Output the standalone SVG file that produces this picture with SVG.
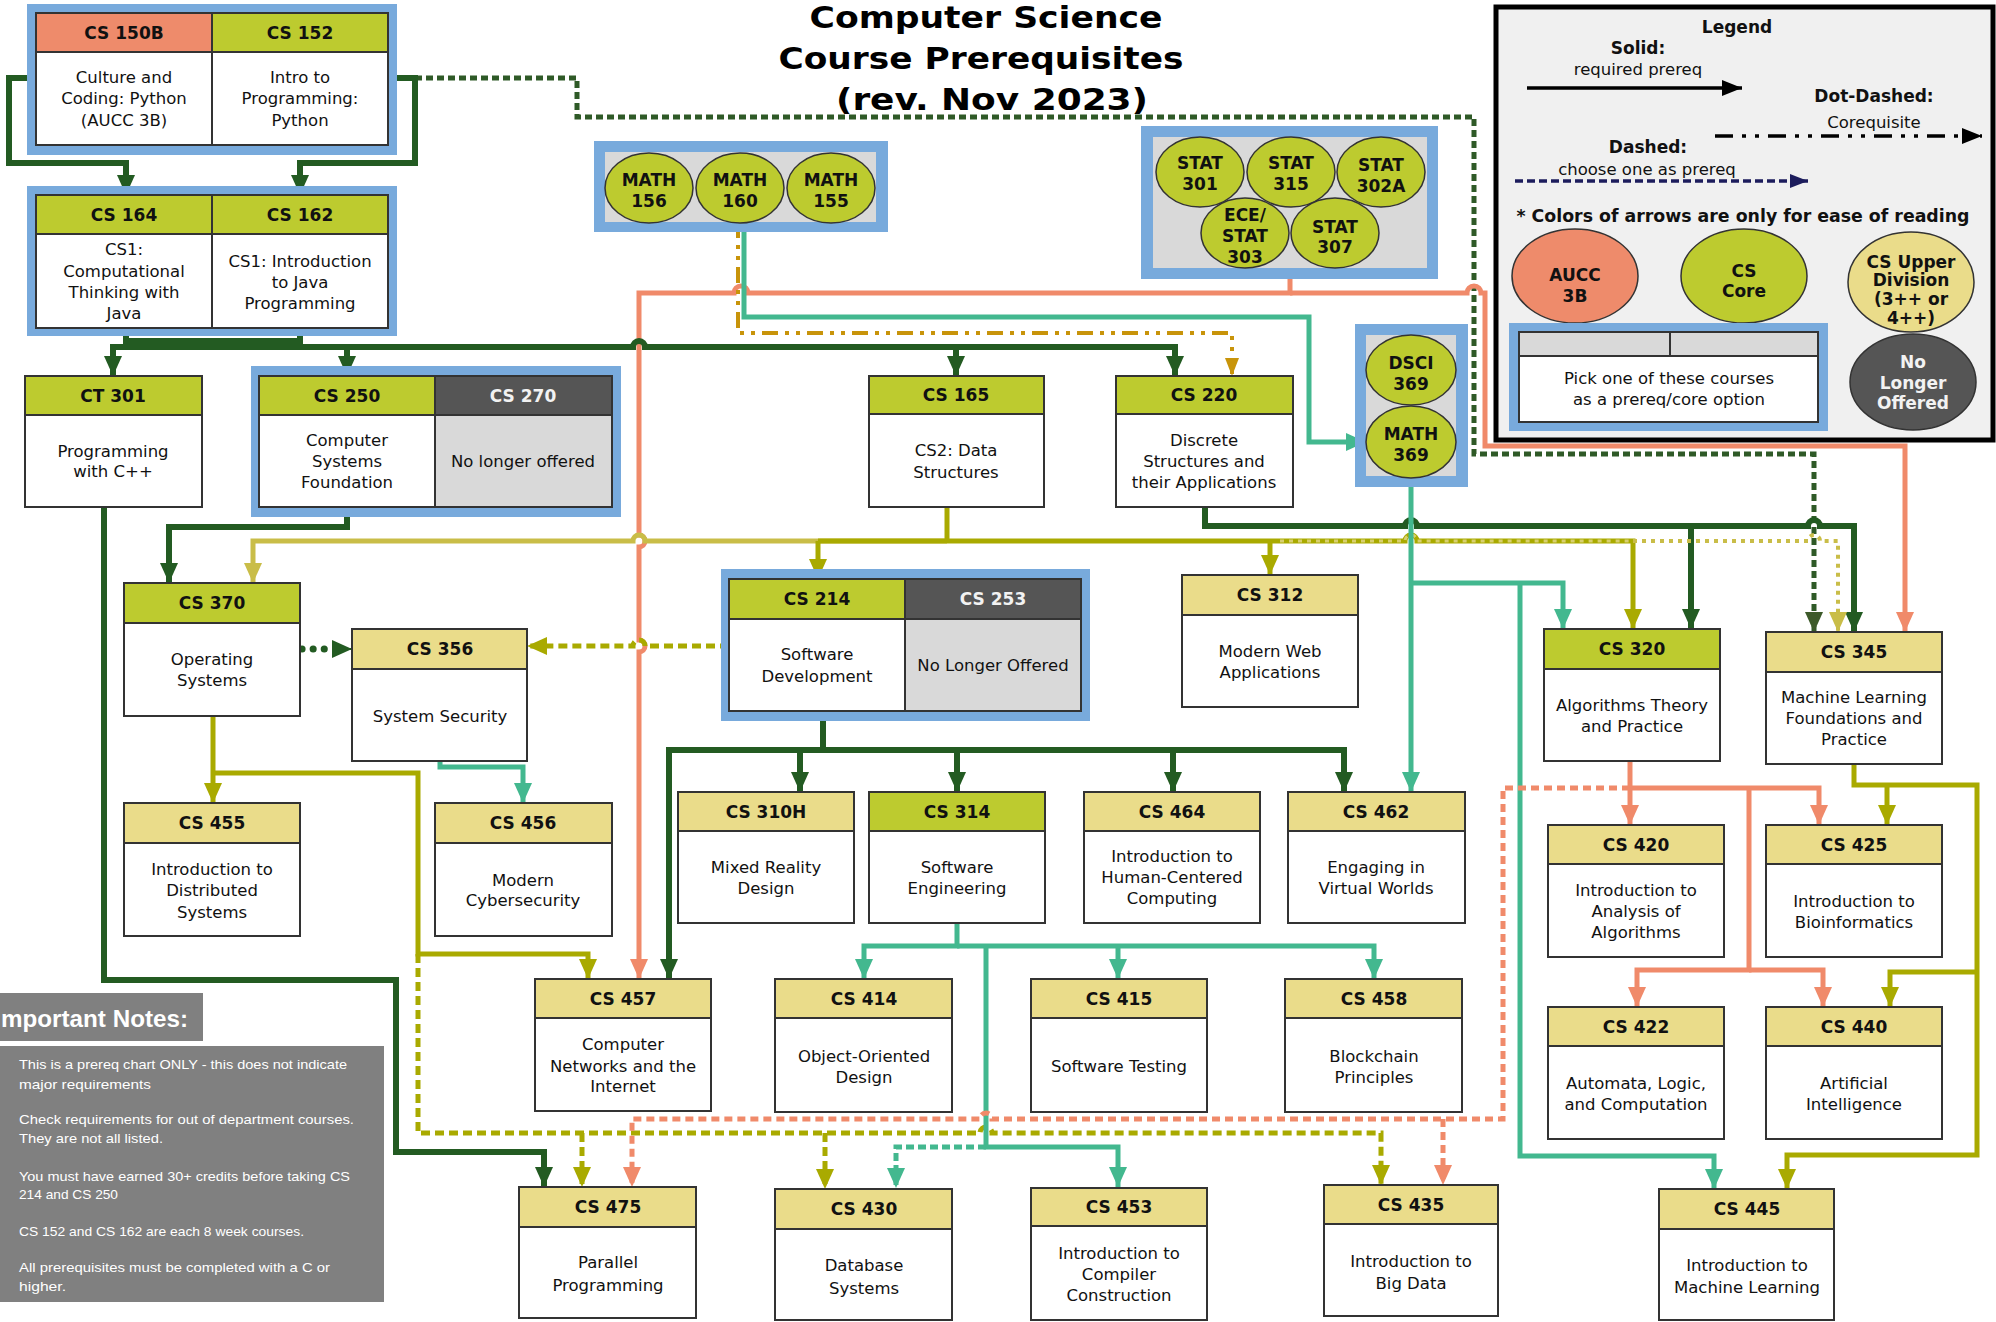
<svg xmlns="http://www.w3.org/2000/svg" width="1996" height="1322" viewBox="0 0 1996 1322">
<style>
.box{fill:#fff;stroke:#333;stroke-width:2}
.hg{fill:#BDCB2F;stroke:#333;stroke-width:2}
.hy{fill:#EADC8A;stroke:#333;stroke-width:2}
.hs{fill:#EE8B6B;stroke:#333;stroke-width:2}
.hd{fill:#555;stroke:#333;stroke-width:2}
.gr{fill:#D9D9D9;stroke:#333;stroke-width:2}
.blue{fill:#78AADC}
.cir{fill:#BDCB2F;stroke:#333;stroke-width:1.5}
.h{font-family:"DejaVu Sans",Verdana,sans-serif;font-weight:bold;font-size:17px;text-anchor:middle;fill:#111}
.hw{font-family:"DejaVu Sans",Verdana,sans-serif;font-weight:bold;font-size:17px;text-anchor:middle;fill:#f2f2f2}
.t{font-family:"DejaVu Sans",Verdana,sans-serif;font-size:16.5px;text-anchor:middle;fill:#111}
.c{fill:none;stroke-linejoin:miter}
.dg{stroke:#235B22;stroke-width:6}
.te{stroke:#43B88F;stroke-width:5}
.sa{stroke:#F08A6A;stroke-width:5}
.ol{stroke:#A9AA00;stroke-width:5}
.kh{stroke:#C9BD48;stroke-width:5}
.go{stroke:#C8940A;stroke-width:4}
.note{font-family:"Liberation Sans",Arial,sans-serif;font-size:13.5px;fill:#fff}
</style>
<defs>
<marker id="m-dg" markerUnits="userSpaceOnUse" markerWidth="20" markerHeight="18" viewBox="0 0 20 18" refX="20" refY="9" orient="auto"><path d="M0,0 L20,9 L0,18 z" fill="#235B22"/></marker>
<marker id="m-dd" markerUnits="userSpaceOnUse" markerWidth="20" markerHeight="18" viewBox="0 0 20 18" refX="20" refY="9" orient="auto"><path d="M0,0 L20,9 L0,18 z" fill="#3D5A2A"/></marker>
<marker id="m-te" markerUnits="userSpaceOnUse" markerWidth="20" markerHeight="18" viewBox="0 0 20 18" refX="20" refY="9" orient="auto"><path d="M0,0 L20,9 L0,18 z" fill="#43B88F"/></marker>
<marker id="m-sa" markerUnits="userSpaceOnUse" markerWidth="20" markerHeight="18" viewBox="0 0 20 18" refX="20" refY="9" orient="auto"><path d="M0,0 L20,9 L0,18 z" fill="#F08A6A"/></marker>
<marker id="m-ol" markerUnits="userSpaceOnUse" markerWidth="20" markerHeight="18" viewBox="0 0 20 18" refX="20" refY="9" orient="auto"><path d="M0,0 L20,9 L0,18 z" fill="#A9AA00"/></marker>
<marker id="m-kh" markerUnits="userSpaceOnUse" markerWidth="20" markerHeight="18" viewBox="0 0 20 18" refX="20" refY="9" orient="auto"><path d="M0,0 L20,9 L0,18 z" fill="#C9BD48"/></marker>
<marker id="m-go" markerUnits="userSpaceOnUse" markerWidth="18" markerHeight="14" viewBox="0 0 18 14" refX="18" refY="7" orient="auto"><path d="M0,0 L18,7 L0,14 z" fill="#C8940A"/></marker>
<marker id="m-bk" markerUnits="userSpaceOnUse" markerWidth="20" markerHeight="16" viewBox="0 0 20 16" refX="20" refY="8" orient="auto"><path d="M0,0 L20,8 L0,16 z" fill="#000"/></marker>
<marker id="m-nv" markerUnits="userSpaceOnUse" markerWidth="18" markerHeight="14" viewBox="0 0 18 14" refX="18" refY="7" orient="auto"><path d="M0,0 L18,7 L0,14 z" fill="#1C1C5C"/></marker>
</defs>
<rect width="1996" height="1322" fill="#fff"/>

<g id="title" font-family="'DejaVu Sans',Verdana,sans-serif" font-weight="bold" font-size="31" text-anchor="middle" fill="#000">
<text x="986" y="28" textLength="353" lengthAdjust="spacingAndGlyphs">Computer Science</text>
<text x="981" y="69" textLength="405" lengthAdjust="spacingAndGlyphs">Course Prerequisites</text>
<text x="992" y="110" textLength="312" lengthAdjust="spacingAndGlyphs">(rev. Nov 2023)</text>
</g>

<g id="connectors">
<path class="c" d="M415 78 H577 V117 H1474 V454 H1814 V632" stroke="#2F5A27" stroke-width="5" stroke-dasharray="7,4" marker-end="url(#m-dd)"/>
<path class="c sa" d="M1290 279 V293 H748 a7 7 0 0 0 -14 0 H639 V535 a6 6 0 0 1 0 12 V640 a6 6 0 0 1 0 12 V979" marker-end="url(#m-sa)"/>
<path class="c sa" d="M1290 293 H1467 a7 7 0 0 1 14 0 H1485 V446 H1905 V632" marker-end="url(#m-sa)"/>
<path class="c te" d="M744 222 V317 H1309 V442 H1366" marker-end="url(#m-te)"/>
<path class="c go" d="M738 222 V333 H1232 V376" stroke-dasharray="16,7,4,7,4,7" marker-end="url(#m-go)"/>
<path class="c dg" d="M36 78 H9 V163 H126 V195" marker-end="url(#m-dg)"/>
<path class="c dg" d="M388 78 H415 V163 H300 V195" marker-end="url(#m-dg)"/>
<path class="c dg" d="M126 328 V341 H300 V328 M213 341 V347"/>
<path class="c dg" d="M213 347 H113 V376" marker-end="url(#m-dg)"/>
<path class="c dg" d="M213 347 H633 a6 6 0 0 1 12 0 H1175 V376" marker-end="url(#m-dg)"/>
<path class="c dg" d="M347 347 V376" marker-end="url(#m-dg)"/>
<path class="c dg" d="M956 347 V376" marker-end="url(#m-dg)"/>
<path class="c dg" d="M104 507 V980 H396 V1152 H544 V1187" marker-end="url(#m-dg)"/>
<path class="c dg" d="M347 507 V527 H169 V583" marker-end="url(#m-dg)"/>
<path class="c dg" d="M1205 507 V526 H1405 a6 6 0 0 1 12 0 H1808 a6 6 0 0 1 12 0 H1854 V632" marker-end="url(#m-dg)"/>
<path class="c dg" d="M1691 526 V629" marker-end="url(#m-dg)"/>
<path class="c dg" d="M823 711 V750"/>
<path class="c dg" d="M823 750 H669 V979" marker-end="url(#m-dg)"/>
<path class="c dg" d="M823 750 H1344 V792" marker-end="url(#m-dg)"/>
<path class="c dg" d="M800 750 V792" marker-end="url(#m-dg)"/>
<path class="c dg" d="M957 750 V792" marker-end="url(#m-dg)"/>
<path class="c dg" d="M1173 750 V792" marker-end="url(#m-dg)"/>
<path class="c" d="M302 649 H333" stroke="#235B22" stroke-width="7" stroke-linecap="round" stroke-dasharray="0.1,11"/>
<path class="c" d="M333 649 H352" stroke="#235B22" stroke-width="2" marker-end="url(#m-dg)"/>
<path class="c kh" d="M947 541 H645 a6 6 0 0 0 -12 0 H253 V583" marker-end="url(#m-kh)"/>
<path class="c ol" d="M947 507 V541"/>
<path class="c ol" d="M818 541 H1405 a6 6 0 0 1 12 0 H1633 V629" marker-end="url(#m-ol)"/>
<path class="c ol" d="M818 541 V579" marker-end="url(#m-ol)"/>
<path class="c ol" d="M1270 541 V575" marker-end="url(#m-ol)"/>
<path class="c" d="M1280 541 H1405 a6 6 0 0 1 12 0 H1633" stroke="#D8CF70" stroke-width="3" stroke-dasharray="4,5"/>
<path class="c" d="M1633 541 H1808 a6 6 0 0 1 12 0 H1838 V632" stroke="#C9BD48" stroke-width="4" stroke-dasharray="4,5" marker-end="url(#m-kh)"/>
<path class="c ol" d="M729 646 H645 a6 6 0 0 0 -12 0 H527" stroke-dasharray="9,5" marker-end="url(#m-ol)"/>
<path class="c te" d="M1411 478 V792" marker-end="url(#m-te)"/>
<path class="c te" d="M1411 583 H1563 V629" marker-end="url(#m-te)"/>
<path class="c te" d="M1520 583 V1156 H1714 V1189" marker-end="url(#m-te)"/>
<path class="c te" d="M440 761 V767 H523 V803" marker-end="url(#m-te)"/>
<path class="c ol" d="M213 716 V803" marker-end="url(#m-ol)"/>
<path class="c ol" d="M213 773 H418 V954 H588 V979" marker-end="url(#m-ol)"/>
<path class="c ol" d="M418 954 V1133 H980 a6 6 0 0 1 12 0 H1381 V1185" stroke-dasharray="9,5" marker-end="url(#m-ol)"/>
<path class="c ol" d="M582 1133 V1187" stroke-dasharray="9,5" marker-end="url(#m-ol)"/>
<path class="c ol" d="M825 1133 V1189" stroke-dasharray="9,5" marker-end="url(#m-ol)"/>
<path class="c te" d="M957 923 V946 H864 V979" marker-end="url(#m-te)"/>
<path class="c te" d="M957 946 H1374 V979" marker-end="url(#m-te)"/>
<path class="c te" d="M1118 946 V979" marker-end="url(#m-te)"/>
<path class="c te" d="M986 946 V1147 H1118 V1187" marker-end="url(#m-te)"/>
<path class="c te" d="M986 1147 H896 V1188" stroke-dasharray="8,4" marker-end="url(#m-te)"/>
<path class="c sa" d="M1630 761 V825" marker-end="url(#m-sa)"/>
<path class="c sa" d="M1630 788 H1819 V825" marker-end="url(#m-sa)"/>
<path class="c sa" d="M1749 788 V970 H1637 V1007" marker-end="url(#m-sa)"/>
<path class="c sa" d="M1749 970 H1823 V1007" marker-end="url(#m-sa)"/>
<path class="c sa" d="M1630 788 H1503 V1119 H992 a6 6 0 0 0 -12 0 H632 V1187" stroke-dasharray="8,5" marker-end="url(#m-sa)"/>
<path class="c sa" d="M1443 1119 V1185" stroke-dasharray="8,5" marker-end="url(#m-sa)"/>
<path class="c ol" d="M1854 764 V785 H1977 V1155 H1787 V1189" marker-end="url(#m-ol)"/>
<path class="c ol" d="M1887 785 V825" marker-end="url(#m-ol)"/>
<path class="c ol" d="M1977 972 H1890 V1007" marker-end="url(#m-ol)"/>
</g>

<g id="cs150b-cs152">
<rect class="blue" x="27" y="4" width="370" height="151"/>
<rect class="box" x="36" y="13" width="352" height="132"/>
<rect class="hs" x="36" y="13" width="176" height="39"/>
<rect class="hg" x="212" y="13" width="176" height="39"/>
<line x1="212" y1="52" x2="212" y2="145" stroke="#333" stroke-width="2"/>
<text class="h" x="124" y="39">CS 150B</text>
<text class="h" x="300" y="39">CS 152</text>
<text class="t" x="124" y="83">Culture and</text>
<text class="t" x="124" y="104">Coding: Python</text>
<text class="t" x="124" y="126">(AUCC 3B)</text>
<text class="t" x="300" y="83">Intro to</text>
<text class="t" x="300" y="104">Programming:</text>
<text class="t" x="300" y="126">Python</text>
</g>
<g id="cs164-cs162">
<rect class="blue" x="27" y="186" width="370" height="150"/>
<rect class="box" x="36" y="195" width="352" height="133"/>
<rect class="hg" x="36" y="195" width="176" height="39"/>
<rect class="hg" x="212" y="195" width="176" height="39"/>
<line x1="212" y1="234" x2="212" y2="328" stroke="#333" stroke-width="2"/>
<text class="h" x="124" y="221">CS 164</text>
<text class="h" x="300" y="221">CS 162</text>
<text class="t" x="124" y="255">CS1:</text>
<text class="t" x="124" y="277">Computational</text>
<text class="t" x="124" y="298">Thinking with</text>
<text class="t" x="124" y="319">Java</text>
<text class="t" x="300" y="267">CS1: Introduction</text>
<text class="t" x="300" y="288">to Java</text>
<text class="t" x="300" y="309">Programming</text>
</g>
<g id="math">
<rect class="blue" x="594" y="141" width="294" height="91"/>
<rect x="605" y="152" width="271" height="70" fill="#D9D9D9"/>
<ellipse class="cir" cx="649" cy="188" rx="44" ry="35"/>
<ellipse class="cir" cx="740" cy="188" rx="44" ry="35"/>
<ellipse class="cir" cx="831" cy="188" rx="44" ry="35"/>
<text class="h" x="649" y="186">MATH</text><text class="h" x="649" y="207">156</text>
<text class="h" x="740" y="186">MATH</text><text class="h" x="740" y="207">160</text>
<text class="h" x="831" y="186">MATH</text><text class="h" x="831" y="207">155</text>
</g>
<g id="stat">
<rect class="blue" x="1141" y="126" width="297" height="153"/>
<rect x="1153" y="137" width="274" height="131" fill="#D9D9D9"/>
<ellipse class="cir" cx="1200" cy="172" rx="44" ry="35"/>
<ellipse class="cir" cx="1291" cy="172" rx="44" ry="35"/>
<ellipse class="cir" cx="1381" cy="172" rx="44" ry="35"/>
<ellipse class="cir" cx="1245" cy="233" rx="44" ry="35"/>
<ellipse class="cir" cx="1335" cy="233" rx="44" ry="35"/>
<text class="h" x="1200" y="169">STAT</text><text class="h" x="1200" y="190">301</text>
<text class="h" x="1291" y="169">STAT</text><text class="h" x="1291" y="190">315</text>
<text class="h" x="1381" y="171">STAT</text><text class="h" x="1381" y="192">302A</text>
<text class="h" x="1245" y="221">ECE/</text><text class="h" x="1245" y="242">STAT</text><text class="h" x="1245" y="263">303</text>
<text class="h" x="1335" y="233">STAT</text><text class="h" x="1335" y="253">307</text>
</g>
<g id="dsci-math369">
<rect class="blue" x="1355" y="324" width="113" height="163"/>
<rect x="1366" y="335" width="90" height="141" fill="#D9D9D9"/>
<ellipse class="cir" cx="1411" cy="370" rx="45" ry="35"/>
<ellipse class="cir" cx="1411" cy="442" rx="45" ry="36"/>
<text class="h" x="1411" y="369">DSCI</text><text class="h" x="1411" y="390">369</text>
<text class="h" x="1411" y="440">MATH</text><text class="h" x="1411" y="461">369</text>
</g>

<g id="legend">
<rect x="1496" y="7" width="497" height="433" fill="#F0F0F0" stroke="#000" stroke-width="5"/>
<text class="h" x="1737" y="33" font-size="20">Legend</text>
<text class="h" x="1638" y="54">Solid:</text>
<text class="t" x="1638" y="75">required prereq</text>
<path d="M1527 88 H1742" stroke="#000" stroke-width="3.5" marker-end="url(#m-bk)"/>
<text class="h" x="1874" y="102">Dot-Dashed:</text>
<text class="t" x="1874" y="128">Corequisite</text>
<path d="M1715 136 H1982" stroke="#000" stroke-width="3.5" stroke-dasharray="18,9,4,9,4,9" marker-end="url(#m-bk)"/>
<text class="h" x="1648" y="153">Dashed:</text>
<text class="t" x="1647" y="175">choose one as prereq</text>
<path d="M1515 181 H1808" stroke="#1C1C5C" stroke-width="3.5" stroke-dasharray="8,4" marker-end="url(#m-nv)"/>
<text class="h" x="1743" y="222" textLength="453" lengthAdjust="spacingAndGlyphs">* Colors of arrows are only for ease of reading</text>
<ellipse cx="1575" cy="276" rx="63" ry="47" fill="#EE8B6B" stroke="#333" stroke-width="1.5"/>
<text class="h" x="1575" y="281">AUCC</text><text class="h" x="1575" y="302">3B</text>
<ellipse cx="1744" cy="276" rx="63" ry="47" fill="#BDCB2F" stroke="#333" stroke-width="1.5"/>
<text class="h" x="1744" y="277">CS</text><text class="h" x="1744" y="297">Core</text>
<ellipse cx="1911" cy="282" rx="63" ry="50" fill="#EADC8A" stroke="#333" stroke-width="1.5"/>
<text class="h" x="1911" y="268" font-size="15.5">CS Upper</text>
<text class="h" x="1911" y="286" font-size="15.5">Division</text>
<text class="h" x="1911" y="305" font-size="15.5">(3++ or</text>
<text class="h" x="1911" y="324" font-size="15.5">4++)</text>
<ellipse cx="1913" cy="382" rx="63" ry="48" fill="#555" stroke="#333" stroke-width="1.5"/>
<text class="hw" x="1913" y="368" font-size="16">No</text>
<text class="hw" x="1913" y="389" font-size="16">Longer</text>
<text class="hw" x="1913" y="409" font-size="16">Offered</text>
<rect class="blue" x="1509" y="323" width="319" height="108"/>
<rect class="box" x="1519" y="332" width="299" height="90"/>
<rect class="gr" x="1519" y="332" width="299" height="24"/>
<line x1="1670" y1="332" x2="1670" y2="356" stroke="#333" stroke-width="2"/>
<text class="t" x="1669" y="384">Pick one of these courses</text>
<text class="t" x="1669" y="405">as a prereq/core option</text>
</g>

<g id="ct301"><rect class="box" x="25" y="376" width="177" height="131"/><rect class="hg" x="25" y="376" width="177" height="39"/><text class="h" x="113" y="402">CT 301</text><text class="t" x="113" y="457">Programming</text><text class="t" x="113" y="477">with C++</text></g>
<g id="cs250-cs270">
<rect class="blue" x="251" y="366" width="370" height="151"/>
<rect class="box" x="259" y="376" width="176" height="131"/>
<rect class="gr" x="435" y="376" width="177" height="131"/>
<rect class="hg" x="259" y="376" width="176" height="39"/>
<rect class="hd" x="435" y="376" width="177" height="39"/>
<text class="h" x="347" y="402">CS 250</text>
<text class="hw" x="523" y="402">CS 270</text>
<text class="t" x="347" y="446">Computer</text><text class="t" x="347" y="467">Systems</text><text class="t" x="347" y="488">Foundation</text>
<text class="t" x="523" y="467">No longer offered</text>
</g>
<g id="cs165"><rect class="box" x="869" y="376" width="175" height="131"/><rect class="hg" x="869" y="376" width="175" height="38"/><text class="h" x="956" y="401">CS 165</text><text class="t" x="956" y="456">CS2: Data</text><text class="t" x="956" y="478">Structures</text></g>
<g id="cs220"><rect class="box" x="1116" y="376" width="177" height="131"/><rect class="hg" x="1116" y="376" width="177" height="38"/><text class="h" x="1204" y="401">CS 220</text><text class="t" x="1204" y="446">Discrete</text><text class="t" x="1204" y="467">Structures and</text><text class="t" x="1204" y="488">their Applications</text></g>
<g id="cs370"><rect class="box" x="124" y="583" width="176" height="133"/><rect class="hg" x="124" y="583" width="176" height="40"/><text class="h" x="212" y="609">CS 370</text><text class="t" x="212" y="665">Operating</text><text class="t" x="212" y="686">Systems</text></g>
<g id="cs356"><rect class="box" x="352" y="629" width="175" height="132"/><rect class="hy" x="352" y="629" width="175" height="40"/><text class="h" x="440" y="655">CS 356</text><text class="t" x="440" y="722">System Security</text></g>
<g id="cs214-cs253">
<rect class="blue" x="721" y="569" width="369" height="152"/>
<rect class="box" x="729" y="579" width="176" height="132"/>
<rect class="gr" x="905" y="579" width="176" height="132"/>
<rect class="hg" x="729" y="579" width="176" height="40"/>
<rect class="hd" x="905" y="579" width="176" height="40"/>
<text class="h" x="817" y="605">CS 214</text>
<text class="hw" x="993" y="605">CS 253</text>
<text class="t" x="817" y="660">Software</text><text class="t" x="817" y="682">Development</text>
<text class="t" x="993" y="671">No Longer Offered</text>
</g>
<g id="cs312"><rect class="box" x="1182" y="575" width="176" height="132"/><rect class="hy" x="1182" y="575" width="176" height="40"/><text class="h" x="1270" y="601">CS 312</text><text class="t" x="1270" y="657">Modern Web</text><text class="t" x="1270" y="678">Applications</text></g>
<g id="cs320"><rect class="box" x="1544" y="629" width="176" height="132"/><rect class="hg" x="1544" y="629" width="176" height="40"/><text class="h" x="1632" y="655">CS 320</text><text class="t" x="1632" y="711">Algorithms Theory</text><text class="t" x="1632" y="732">and Practice</text></g>
<g id="cs345"><rect class="box" x="1766" y="632" width="176" height="132"/><rect class="hy" x="1766" y="632" width="176" height="40"/><text class="h" x="1854" y="658">CS 345</text><text class="t" x="1854" y="703">Machine Learning</text><text class="t" x="1854" y="724">Foundations and</text><text class="t" x="1854" y="745">Practice</text></g>
<g id="cs455"><rect class="box" x="124" y="803" width="176" height="133"/><rect class="hy" x="124" y="803" width="176" height="40"/><text class="h" x="212" y="829">CS 455</text><text class="t" x="212" y="875">Introduction to</text><text class="t" x="212" y="896">Distributed</text><text class="t" x="212" y="918">Systems</text></g>
<g id="cs456"><rect class="box" x="435" y="803" width="177" height="133"/><rect class="hy" x="435" y="803" width="177" height="40"/><text class="h" x="523" y="829">CS 456</text><text class="t" x="523" y="886">Modern</text><text class="t" x="523" y="906">Cybersecurity</text></g>
<g id="cs310h"><rect class="box" x="678" y="792" width="176" height="131"/><rect class="hy" x="678" y="792" width="176" height="39"/><text class="h" x="766" y="818">CS 310H</text><text class="t" x="766" y="873">Mixed Reality</text><text class="t" x="766" y="894">Design</text></g>
<g id="cs314"><rect class="box" x="869" y="792" width="176" height="131"/><rect class="hg" x="869" y="792" width="176" height="39"/><text class="h" x="957" y="818">CS 314</text><text class="t" x="957" y="873">Software</text><text class="t" x="957" y="894">Engineering</text></g>
<g id="cs464"><rect class="box" x="1084" y="792" width="176" height="131"/><rect class="hy" x="1084" y="792" width="176" height="39"/><text class="h" x="1172" y="818">CS 464</text><text class="t" x="1172" y="862">Introduction to</text><text class="t" x="1172" y="883">Human-Centered</text><text class="t" x="1172" y="904">Computing</text></g>
<g id="cs462"><rect class="box" x="1288" y="792" width="177" height="131"/><rect class="hy" x="1288" y="792" width="177" height="39"/><text class="h" x="1376" y="818">CS 462</text><text class="t" x="1376" y="873">Engaging in</text><text class="t" x="1376" y="894">Virtual Worlds</text></g>
<g id="cs420"><rect class="box" x="1548" y="825" width="176" height="132"/><rect class="hy" x="1548" y="825" width="176" height="39"/><text class="h" x="1636" y="851">CS 420</text><text class="t" x="1636" y="896">Introduction to</text><text class="t" x="1636" y="917">Analysis of</text><text class="t" x="1636" y="938">Algorithms</text></g>
<g id="cs425"><rect class="box" x="1766" y="825" width="176" height="132"/><rect class="hy" x="1766" y="825" width="176" height="39"/><text class="h" x="1854" y="851">CS 425</text><text class="t" x="1854" y="907">Introduction to</text><text class="t" x="1854" y="928">Bioinformatics</text></g>
<g id="cs457"><rect class="box" x="535" y="979" width="176" height="132"/><rect class="hy" x="535" y="979" width="176" height="39"/><text class="h" x="623" y="1005">CS 457</text><text class="t" x="623" y="1050">Computer</text><text class="t" x="623" y="1072">Networks and the</text><text class="t" x="623" y="1092">Internet</text></g>
<g id="cs414"><rect class="box" x="775" y="979" width="177" height="133"/><rect class="hy" x="775" y="979" width="177" height="39"/><text class="h" x="864" y="1005">CS 414</text><text class="t" x="864" y="1062">Object-Oriented</text><text class="t" x="864" y="1083">Design</text></g>
<g id="cs415"><rect class="box" x="1031" y="979" width="176" height="133"/><rect class="hy" x="1031" y="979" width="176" height="39"/><text class="h" x="1119" y="1005">CS 415</text><text class="t" x="1119" y="1072">Software Testing</text></g>
<g id="cs458"><rect class="box" x="1285" y="979" width="177" height="133"/><rect class="hy" x="1285" y="979" width="177" height="39"/><text class="h" x="1374" y="1005">CS 458</text><text class="t" x="1374" y="1062">Blockchain</text><text class="t" x="1374" y="1083">Principles</text></g>
<g id="cs422"><rect class="box" x="1548" y="1007" width="176" height="132"/><rect class="hy" x="1548" y="1007" width="176" height="39"/><text class="h" x="1636" y="1033">CS 422</text><text class="t" x="1636" y="1089">Automata, Logic,</text><text class="t" x="1636" y="1110">and Computation</text></g>
<g id="cs440"><rect class="box" x="1766" y="1007" width="176" height="132"/><rect class="hy" x="1766" y="1007" width="176" height="39"/><text class="h" x="1854" y="1033">CS 440</text><text class="t" x="1854" y="1089">Artificial</text><text class="t" x="1854" y="1110">Intelligence</text></g>
<g id="cs475"><rect class="box" x="519" y="1187" width="177" height="131"/><rect class="hy" x="519" y="1187" width="177" height="40"/><text class="h" x="608" y="1213">CS 475</text><text class="t" x="608" y="1268">Parallel</text><text class="t" x="608" y="1291">Programming</text></g>
<g id="cs430"><rect class="box" x="775" y="1189" width="177" height="131"/><rect class="hy" x="775" y="1189" width="177" height="40"/><text class="h" x="864" y="1215">CS 430</text><text class="t" x="864" y="1271">Database</text><text class="t" x="864" y="1294">Systems</text></g>
<g id="cs453"><rect class="box" x="1031" y="1188" width="176" height="132"/><rect class="hy" x="1031" y="1188" width="176" height="38"/><text class="h" x="1119" y="1213">CS 453</text><text class="t" x="1119" y="1259">Introduction to</text><text class="t" x="1119" y="1280">Compiler</text><text class="t" x="1119" y="1301">Construction</text></g>
<g id="cs435"><rect class="box" x="1324" y="1185" width="174" height="131"/><rect class="hy" x="1324" y="1185" width="174" height="39"/><text class="h" x="1411" y="1211">CS 435</text><text class="t" x="1411" y="1267">Introduction to</text><text class="t" x="1411" y="1289">Big Data</text></g>
<g id="cs445"><rect class="box" x="1659" y="1189" width="175" height="131"/><rect class="hy" x="1659" y="1189" width="175" height="40"/><text class="h" x="1747" y="1215">CS 445</text><text class="t" x="1747" y="1271">Introduction to</text><text class="t" x="1747" y="1293">Machine Learning</text></g>

<g id="notes">
<rect x="0" y="993" width="203" height="48" fill="#808080"/>
<text x="1" y="1027" font-family="'Liberation Sans',Arial,sans-serif" font-weight="bold" font-size="24.5" fill="#fff" textLength="187" lengthAdjust="spacingAndGlyphs">mportant Notes:</text>
<rect x="0" y="1046" width="384" height="256" fill="#808080"/>
<text class="note" x="19" y="1069" textLength="328" lengthAdjust="spacingAndGlyphs">This is a prereq chart ONLY - this does not indicate</text>
<text class="note" x="19" y="1089" textLength="132" lengthAdjust="spacingAndGlyphs">major requirements</text>
<text class="note" x="19" y="1124" textLength="335" lengthAdjust="spacingAndGlyphs">Check requirements for out of department courses.</text>
<text class="note" x="19" y="1143" textLength="144" lengthAdjust="spacingAndGlyphs">They are not all listed.</text>
<text class="note" x="19" y="1181" textLength="331" lengthAdjust="spacingAndGlyphs">You must have earned 30+ credits before taking CS</text>
<text class="note" x="19" y="1199" textLength="99" lengthAdjust="spacingAndGlyphs">214 and CS 250</text>
<text class="note" x="19" y="1236" textLength="285" lengthAdjust="spacingAndGlyphs">CS 152 and CS 162 are each 8 week courses.</text>
<text class="note" x="19" y="1272" textLength="311" lengthAdjust="spacingAndGlyphs">All prerequisites must be completed with a C or</text>
<text class="note" x="19" y="1291" textLength="47" lengthAdjust="spacingAndGlyphs">higher.</text>
</g>
</svg>
